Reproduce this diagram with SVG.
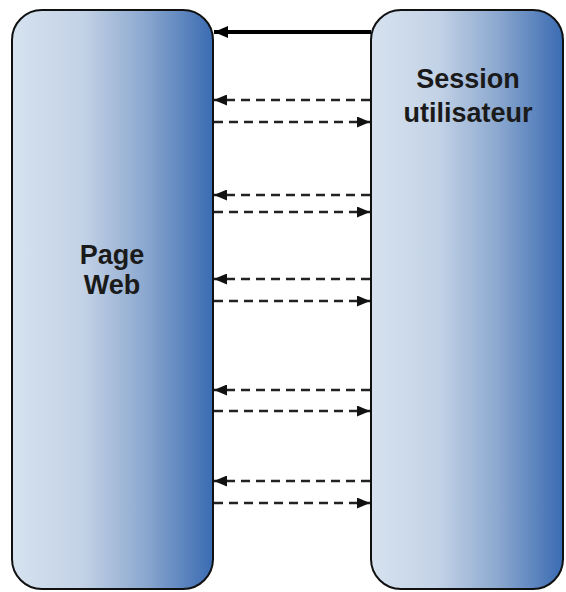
<svg xmlns="http://www.w3.org/2000/svg" width="566" height="592" viewBox="0 0 566 592">
<style>
.box{stroke:#111;stroke-width:2;fill:url(#g)}
.lbl{font-family:"Liberation Sans",Arial,sans-serif;font-weight:bold;font-size:27px;fill:#1a1a1a;text-anchor:middle}
.solid{stroke:#000;stroke-width:4;fill:none;marker-end:url(#ah)}
.dash{stroke:#222;stroke-width:2.5;stroke-dasharray:9 6;fill:none;marker-end:url(#ad)}
</style>
<defs>
<linearGradient id="g" x1="0" y1="0" x2="1" y2="0">
<stop offset="0" stop-color="#d6e2ef"/>
<stop offset="0.35" stop-color="#c3d2e6"/>
<stop offset="0.65" stop-color="#8eaad0"/>
<stop offset="1" stop-color="#3a6bb2"/>
</linearGradient>
<marker id="ah" viewBox="0 0 14 12" refX="14" refY="6" markerWidth="14" markerHeight="12" markerUnits="userSpaceOnUse" orient="auto">
<path d="M0,0 L14,6 L0,12 z" fill="#000"/>
</marker>
<marker id="ad" viewBox="0 0 13 11" refX="13" refY="5.5" markerWidth="13" markerHeight="11" markerUnits="userSpaceOnUse" orient="auto">
<path d="M0,0 L13,5.5 L0,11 z" fill="#111"/>
</marker>
</defs>
<g id="page-web">
<rect class="box" x="12" y="10" width="201" height="579" rx="30" ry="30"/>
<text class="lbl" x="112" y="264">Page</text>
<text class="lbl" x="112" y="294">Web</text>
</g>
<g id="session">
<rect class="box" x="371" y="10" width="192" height="579" rx="30" ry="30"/>
<text class="lbl" x="468" y="88">Session</text>
<text class="lbl" x="468" y="122">utilisateur</text>
</g>
<g id="connectors">
<line class="solid" x1="371" y1="32" x2="214" y2="32"/>
<line class="dash" x1="370" y1="100" x2="214" y2="100"/>
<line class="dash" x1="214" y1="122" x2="370" y2="122"/>
<line class="dash" x1="370" y1="195" x2="214" y2="195"/>
<line class="dash" x1="214" y1="212" x2="370" y2="212"/>
<line class="dash" x1="370" y1="279" x2="214" y2="279"/>
<line class="dash" x1="214" y1="301" x2="370" y2="301"/>
<line class="dash" x1="370" y1="390" x2="214" y2="390"/>
<line class="dash" x1="214" y1="411" x2="370" y2="411"/>
<line class="dash" x1="370" y1="481" x2="214" y2="481"/>
<line class="dash" x1="214" y1="503" x2="370" y2="503"/>
</g>
</svg>
